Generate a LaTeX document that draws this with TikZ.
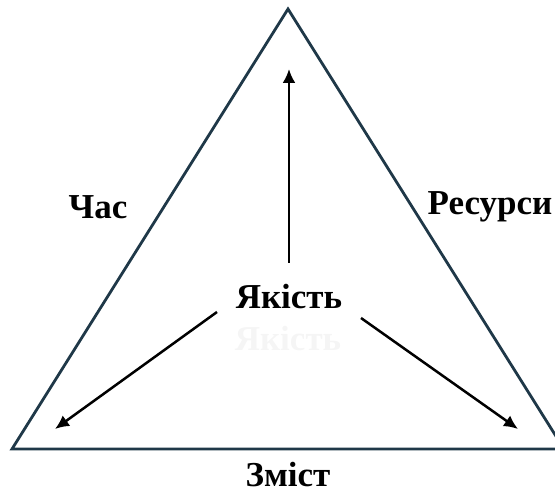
\documentclass[tikz,border=0pt]{standalone}
\usepackage{fontspec}
\setmainfont{Liberation Serif}
\usetikzlibrary{arrows.meta,positioning}
\definecolor{EdgeSlate}{RGB}{31,56,72}
\definecolor{GhostGray}{RGB}{245,245,245}

\begin{document}
\begin{tikzpicture}[x=1pt,y=-1pt,
    lbl/.style={font=\fontsize{35}{40}\selectfont\bfseries,inner sep=0pt},
    arr/.style={-{Latex[length=14pt,width=13pt]},line width=2.5pt}]
  \useasboundingbox (0,0) rectangle (555,494);

  % triangle
  \coordinate (apex) at (288,9);
  \coordinate (lcorner) at (12,449);
  \coordinate (rcorner) at (564,449);
  \draw[EdgeSlate,line width=2.8pt,line join=miter] (apex) -- (lcorner) -- (rcorner) -- cycle;

  % labels
  \node[lbl] (time) at (98,207) {Час};
  \node[lbl] (resources) at (490,207) {Ресурси};
  \node[lbl] (scope) at (288,475) {Зміст};
  \node[lbl] (quality) at (289,297) {Якість};
  \node[lbl,text=GhostGray] (echo) at (288,339) {Якість};

  % arrows from the centre
  \coordinate (upStart) at (289,263);
  \coordinate (upTip) at (289,69);
  \coordinate (leftStart) at (217,312);
  \coordinate (leftTip) at (55,429);
  \coordinate (rightStart) at (361,318);
  \coordinate (rightTip) at (518,429);
  \draw[arr] (upStart) -- (upTip);
  \draw[arr] (leftStart) -- (leftTip);
  \draw[arr] (rightStart) -- (rightTip);
\end{tikzpicture}
\end{document}
